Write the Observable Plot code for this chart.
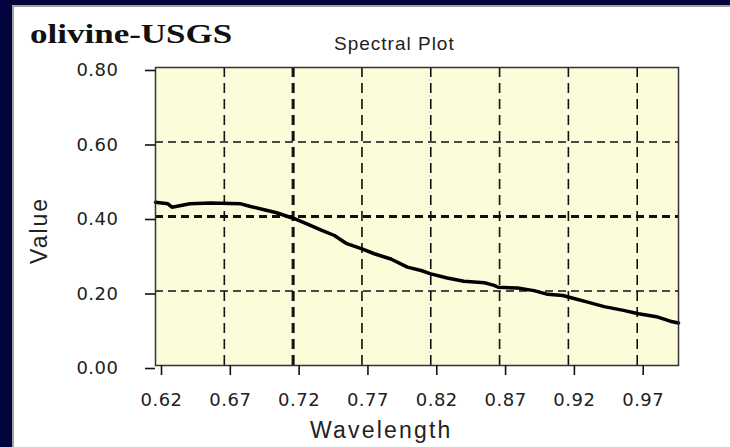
<!DOCTYPE html>
<html>
<head>
<meta charset="utf-8">
<script src="https://cdn.jsdelivr.net/npm/d3@7"></script>
<script src="https://cdn.jsdelivr.net/npm/@observablehq/plot@0.6"></script>
<style>
  html, body { margin: 0; padding: 0; width: 730px; height: 447px; overflow: hidden; background: #03033d; }
  #panel { position: absolute; left: 12px; top: 5px; width: 716px; height: 440px; background: #fff;
           border-left: 2px solid #a0a0a0; border-top: 2px solid #a0a0a0; }
  #chart { position: absolute; left: 0; top: 0; }
  .lbl { position: absolute; white-space: nowrap; color: #222; transform-origin: 0 0; }
  #title { left: 30px; top: 20px; font: bold 28px/28px "Liberation Serif", serif; color: #111; transform: scaleX(1.25); }
  #sub { left: 334px; top: 34px; font: 19px/19px "Liberation Sans", sans-serif; letter-spacing: 1px; }
  #xlabel { left: 310px; top: 419px; font: 23px/23px "Liberation Sans", sans-serif; letter-spacing: 2.2px; }
  #ylabel { left: 28px; top: 264px; font: 23px/23px "Liberation Sans", sans-serif; letter-spacing: 2px; transform: rotate(-90deg); }
  .ax text { letter-spacing: 0.5px; }
</style>
</head>
<body>
<div id="panel"></div>
<div id="chart"></div>
<div class="lbl" id="title">olivine-USGS</div>
<div class="lbl" id="sub">Spectral Plot</div>
<div class="lbl" id="xlabel">Wavelength</div>
<div class="lbl" id="ylabel">Value</div>
<script>
// olivine reflectance spectrum (USGS library), 0.62–1.00 µm
const wavelength = [0.620, 0.629, 0.632, 0.645, 0.660, 0.682, 0.689, 0.699, 0.708, 0.721,
                    0.730, 0.740, 0.750, 0.759, 0.770, 0.779, 0.791, 0.803, 0.813, 0.820,
                    0.832, 0.844, 0.859, 0.866, 0.869, 0.883, 0.895, 0.905, 0.916, 0.922,
                    0.934, 0.946, 0.960, 0.971, 0.985, 0.994, 1.000];
const reflectance = [0.438, 0.434, 0.425, 0.434, 0.436, 0.434, 0.427, 0.418, 0.410, 0.394,
                     0.380, 0.364, 0.349, 0.327, 0.313, 0.300, 0.286, 0.264, 0.255, 0.246,
                     0.235, 0.226, 0.222, 0.215, 0.210, 0.208, 0.201, 0.191, 0.188, 0.182,
                     0.170, 0.158, 0.148, 0.139, 0.130, 0.119, 0.114];

const xTicks = [0.62, 0.67, 0.72, 0.77, 0.82, 0.87, 0.92, 0.97];
const yTicks = [0.0, 0.2, 0.4, 0.6, 0.8];
const xGridHeavy = [0.72];
const yGridHeavy = [0.4];

const spectrum = wavelength.map((w, i) => ({wavelength: w, value: reflectance[i]}));

const chart = Plot.plot({
  width: 730,
  height: 447,
  marginLeft: 155,
  marginRight: 52,
  marginTop: 67,
  marginBottom: 82,
  style: {background: "transparent", fontFamily: "'DejaVu Sans', sans-serif", color: "#222"},
  x: {domain: [0.62, 1.0]},
  y: {domain: [0, 0.8]},
  marks: [
    Plot.frame({fill: "#fcfbda"}),
    // dashed grid
    Plot.ruleX(xTicks.filter(t => t > 0.62 && !xGridHeavy.includes(t)), {stroke: "#111", strokeWidth: 1.6, strokeDasharray: "10,6"}),
    Plot.ruleX(xGridHeavy, {stroke: "#111", strokeWidth: 3, strokeDasharray: "10,6"}),
    Plot.ruleY(yTicks.filter(t => t > 0 && t < 0.8 && !yGridHeavy.includes(t)), {stroke: "#111", strokeWidth: 1.6, strokeDasharray: "8,5"}),
    Plot.ruleY(yGridHeavy, {stroke: "#111", strokeWidth: 3, strokeDasharray: "8,5"}),
    Plot.line(spectrum, {x: "wavelength", y: "value", stroke: "#000", strokeWidth: 3.5}),
    Plot.frame({stroke: "#333", strokeWidth: 1.5}),
    Plot.axisX(xTicks, {className: "ax", fontSize: 18, tickSize: 10, tickPadding: 18, tickFormat: d3.format(".2f"), dx: 6, stroke: "#111", strokeWidth: 1.6, fill: "#222", label: null}),
    Plot.axisY(yTicks, {className: "ax", fontSize: 18, tickSize: 10, tickPadding: 27, tickFormat: d3.format(".2f"), dy: 3, stroke: "#111", strokeWidth: 1.6, fill: "#222", label: null})
  ]
});
document.getElementById("chart").appendChild(chart);
</script>
</body>
</html>
